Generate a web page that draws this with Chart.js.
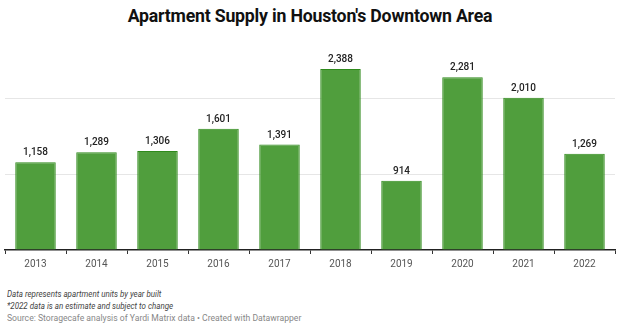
<!DOCTYPE html>
<html>
<head>
<meta charset="utf-8">
<script src="https://cdn.jsdelivr.net/npm/chart.js@4"></script>
<style>
  html, body { margin: 0; padding: 0; background: #fff; }
  #wrap { position: relative; width: 620px; height: 329px; overflow: hidden; font-family: Roboto, sans-serif; }
  #title { position: absolute; top: 6px; left: 0; width: 620px; text-align: center; font-weight: 700; font-size: 17.7px; color: #111; letter-spacing: -0.2px; }
  #cv { position: absolute; top: 0; left: 0; }
  .note { position: absolute; left: 7px; font-size: 9.3px; white-space: nowrap; transform-origin: 0 50%; }
  #n1 { top: 288px; color: #444; font-style: italic; transform: scaleX(0.857); }
  #n2 { top: 300px; color: #444; font-style: italic; transform: scaleX(0.857); }
  #n3 { top: 312px; color: #888; transform: scaleX(0.927); }
</style>
</head>
<body>
<div id="wrap">
  <div id="title">Apartment Supply in Houston's Downtown Area</div>
  <canvas id="cv" width="620" height="280" style="width:620px;height:280px"></canvas>
  <div class="note" id="n1">Data represents apartment units by year built</div>
  <div class="note" id="n2">*2022 data is an estimate and subject to change</div>
  <div class="note" id="n3">Source: Storagecafe analysis of Yardi Matrix data • Created with Datawrapper</div>
</div>
<script>
const years = ['2013','2014','2015','2016','2017','2018','2019','2020','2021','2022'];
const units = [1158, 1289, 1306, 1601, 1391, 2388, 914, 2281, 2010, 1269];
const gridTicks = [0, 1000, 2000];

const valueLabels = {
  id: 'valueLabels',
  afterDatasetsDraw(chart) {
    const ctx = chart.ctx;
    const meta = chart.getDatasetMeta(0);
    ctx.save();
    ctx.font = '500 10px Roboto, sans-serif';
    ctx.fillStyle = '#222';
    ctx.textAlign = 'center';
    ctx.textBaseline = 'bottom';
    meta.data.forEach((bar, i) => {
      ctx.fillText(units[i].toLocaleString('en-US'), bar.x, bar.y - 4.5);
    });
    ctx.restore();
  }
};

new Chart(document.getElementById('cv'), {
  type: 'bar',
  data: {
    labels: years,
    datasets: [{
      data: units,
      backgroundColor: '#509e3d',
      borderColor: '#2f8a1c',
      borderWidth: 1,
      categoryPercentage: 1,
      barPercentage: 0.664
    }]
  },
  options: {
    responsive: false,
    animation: false,
    layout: { padding: { left: 5, right: 5, top: 53, bottom: 0 } },
    plugins: { legend: { display: false }, tooltip: { enabled: false } },
    scales: {
      x: {
        grid: { display: true, drawOnChartArea: false, drawTicks: true, tickLength: 4, tickColor: '#333', tickWidth: 1 },
        border: { display: true, color: '#222', width: 1.5 },
        ticks: { color: '#555', font: { family: 'Roboto', size: 10 }, padding: 4 },
        afterFit: s => { s.height = 30; }
      },
      y: {
        min: 0, max: 2600,
        afterBuildTicks: s => { s.ticks = gridTicks.map(v => ({ value: v })); },
        grid: { color: c => c.tick.value === 0 ? 'rgba(0,0,0,0)' : '#e6e6e6', drawTicks: false },
        border: { display: false },
        ticks: { display: false },
        afterFit: s => { s.width = 0; }
      }
    }
  },
  plugins: [valueLabels]
});
</script>
</body>
</html>
